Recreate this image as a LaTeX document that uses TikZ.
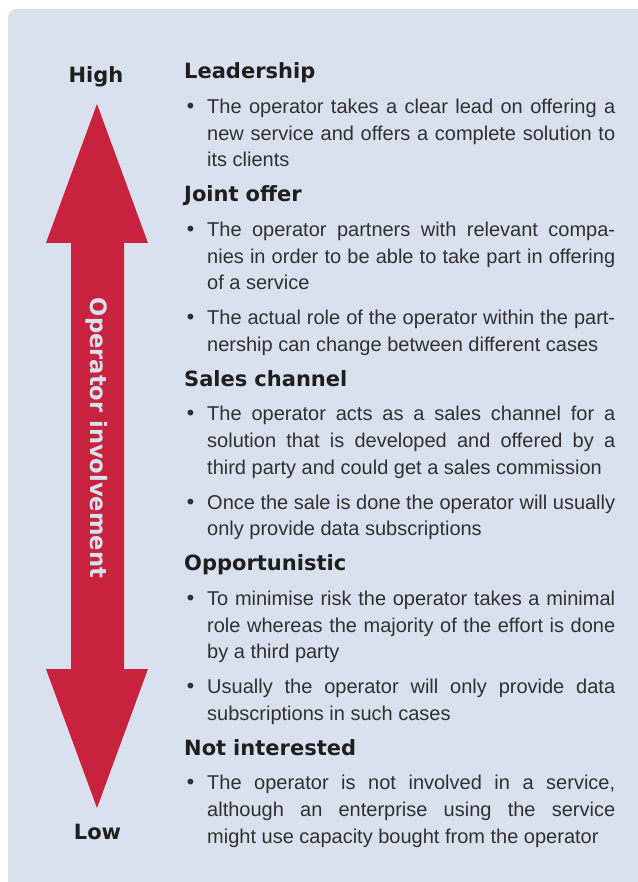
\documentclass[tikz,border=0pt]{standalone}
\usepackage{fontspec}
\setmainfont{Liberation Sans}
\newfontfamily\headfont{DejaVu Sans}
\usetikzlibrary{positioning}

\definecolor{panelbg}{RGB}{218,225,238}
\definecolor{axisred}{RGB}{200,34,63}
\definecolor{bodytext}{RGB}{48,48,48}
\definecolor{headtext}{RGB}{30,30,30}

% one list item: bullet, hanging indent, paragraph closed inside the node
\newcommand{\pointtext}[1]{\noindent\hangindent=23pt\hangafter=1\strut
  \makebox[23pt][l]{\hspace{0.5pt}{\headfont\textbullet}}#1\strut\par}

\begin{document}
\begin{tikzpicture}[x=1pt,y=1pt,node distance=7.9pt,
  headbox/.style={text width=431pt,inner sep=0pt,align=left,text=headtext,
                  font=\headfont\bfseries\fontsize{21}{26.6}\selectfont},
  itembox/.style={text width=431pt,inner sep=0pt,align=justify,text=bodytext,
                  font=\fontsize{20}{26.6}\selectfont},
  endlabel/.style={anchor=base,inner sep=0pt,text=headtext,
                   font=\headfont\bfseries\fontsize{21}{26.6}\selectfont}]
  \useasboundingbox (0,0) rectangle (637,-882);
  \fill[panelbg,rounded corners=9pt] (8,-9) rectangle (650,-895);

  % involvement axis
  \fill[axisred] (97,-104) -- (148,-243) -- (124,-243) -- (124,-669) -- (148,-669)
    -- (97,-808) -- (46,-669) -- (71,-669) -- (71,-243) -- (46,-243) -- cycle;
  \node[rotate=-90,text=panelbg,font=\headfont\bfseries\fontsize{22.6}{26}\selectfont]
    (axis) at (96.5,-438) {Operator involvement};
  \node[endlabel] (high) at (96,-82.7) {High};
  \node[endlabel] (low) at (97.5,-839.3) {Low};

  % levels, top to bottom
  \node[headbox,anchor=north west] (lead) at (184,-59.7) {\strut Leadership\strut};
  \node[itembox,below=of lead] (lead1) {\pointtext{The operator takes a clear lead on offering a\linebreak
    new service and offers a complete solution to\linebreak its clients}};
  \node[headbox,below=of lead1] (joint) {\strut Joint offer\strut};
  \node[itembox,below=of joint] (joint1) {\pointtext{The operator partners with relevant compa-\linebreak
    nies in order to be able to take part in offering\linebreak of a service}};
  \node[itembox,below=of joint1] (joint2) {\pointtext{The actual role of the operator within the part-\linebreak
    nership can change between different cases}};
  \node[headbox,below=of joint2] (sales) {\strut Sales channel\strut};
  \node[itembox,below=of sales] (sales1) {\pointtext{The operator acts as a sales channel for a\linebreak
    solution that is developed and offered by a\linebreak third party and could get a sales commission}};
  \node[itembox,below=of sales1] (sales2) {\pointtext{Once the sale is done the operator will usually\linebreak
    only provide data subscriptions}};
  \node[headbox,below=of sales2] (opp) {\strut Opportunistic\strut};
  \node[itembox,below=of opp] (opp1) {\pointtext{To minimise risk the operator takes a minimal\linebreak
    role whereas the majority of the effort is done\linebreak by a third party}};
  \node[itembox,below=of opp1] (opp2) {\pointtext{Usually the operator will only provide data\linebreak
    subscriptions in such cases}};
  \node[headbox,below=of opp2] (none) {\strut Not interested\strut};
  \node[itembox,below=of none] (none1) {\pointtext{The operator is not involved in a service,\linebreak
    although an enterprise using the service\linebreak might use capacity bought from the operator}};
\end{tikzpicture}
\end{document}
